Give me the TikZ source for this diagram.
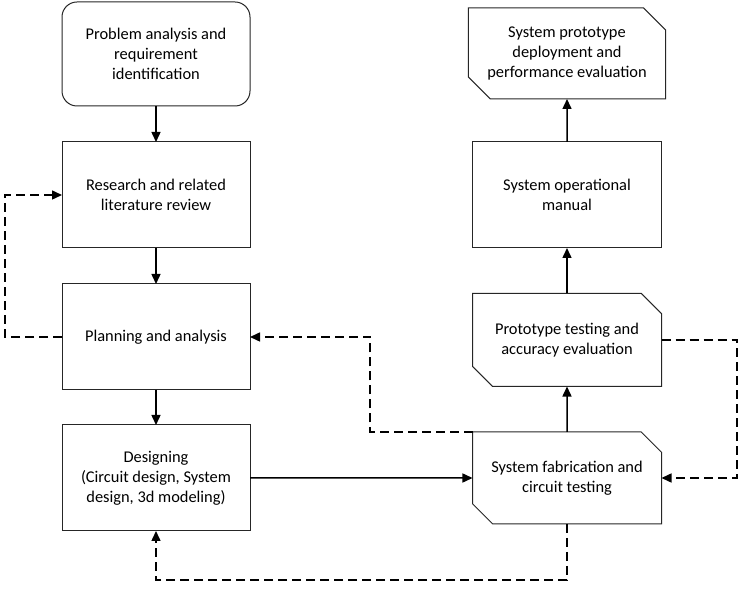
\documentclass[tikz,border=0pt]{standalone}
\usepackage{fontspec}
\setmainfont{Carlito}
\usetikzlibrary{arrows.meta,shapes.misc}
\begin{document}
\begin{tikzpicture}[x=1pt,y=-1pt,
  box/.style={draw=black!85,line width=1pt,inner sep=0pt,outer sep=0pt,align=center,
    font=\fontsize{16.4}{20}\selectfont,minimum width=188pt},
  cut/.style={box,chamfered rectangle,chamfered rectangle corners={north east,south west},
    chamfered rectangle xsep=19pt,chamfered rectangle angle=45},
  arr/.style={line width=1.5pt,-{Triangle[length=10pt,width=9pt]}},
  darr/.style={arr,dash pattern=on 9pt off 5pt}]
\useasboundingbox (0,0) rectangle (740,593);
\node[box,rounded corners=15pt,minimum height=104pt] (prob) at (156,54) {Problem analysis and\\requirement\\identification};
\node[box,minimum height=106pt] (res) at (156,195) {Research and related\\literature review};
\node[box,minimum height=106pt] (plan) at (156,337) {Planning and analysis};
\node[box,minimum height=106pt] (des) at (156,478) {Designing\\(Circuit design, System\\design, 3d modeling)};
\node[cut,minimum width=189pt,minimum height=91pt] (dep) at (567,53.5) {System prototype\\deployment and\\performance evaluation};
\node[box,minimum width=189pt,minimum height=106pt] (man) at (567,195) {System operational\\manual};
\node[cut,minimum width=189pt,minimum height=93pt] (test) at (567,340) {Prototype testing and\\accuracy evaluation};
\node[cut,minimum width=189pt,minimum height=92pt] (fab) at (567,478) {System fabrication and\\circuit testing};
\coordinate (fabnw) at (fab.north -| fab.west);
\coordinate (k1) at (5,337);
\coordinate (k2) at (370,432);
\coordinate (k3) at (737,340);
\coordinate (k4) at (567,580);
\draw[arr] (prob) -- (res);
\draw[arr] (res) -- (plan);
\draw[arr] (plan) -- (des);
\draw[arr] (des) -- (fab);
\draw[arr] (fab) -- (test);
\draw[arr] (test) -- (man);
\draw[arr] (man) -- (dep);
\draw[darr] (plan.west) -- (k1) |- (res.west);
\draw[darr] (fabnw) -- (k2) |- (plan.east);
\draw[darr] (test.east) -- (k3) |- (fab.east);
\draw[darr] (fab.south) -- (k4) -| (des.south);
\end{tikzpicture}
\end{document}
